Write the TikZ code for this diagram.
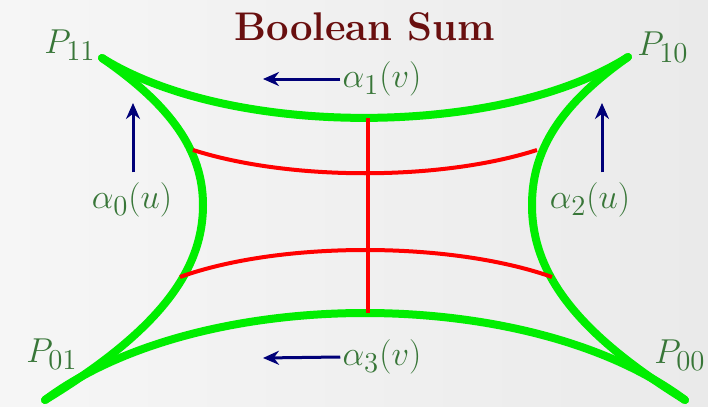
\documentclass[tikz,border=0pt]{standalone}
\usepackage{amsmath}
\usepackage{fontspec}
\usepackage{tikz}
\usetikzlibrary{arrows.meta, positioning, calc}
\definecolor{lgreen}{RGB}{0,238,0}
\definecolor{dgreen}{RGB}{56,118,56}
\definecolor{navy}{RGB}{0,0,120}
\definecolor{maroon}{RGB}{105,15,15}
\definecolor{bgl}{RGB}{246,246,246}
\definecolor{bgr}{RGB}{234,234,234}

\begin{document}
\begin{tikzpicture}[x=0.5pt, y=-0.5pt,
    edge/.style={lgreen, line width=4pt, line cap=round},
    iso/.style={red, line width=2pt},
    dir/.style={navy, line width=1.5pt, -{Stealth[length=8pt, width=7pt]}},
    lab/.style={dgreen, inner sep=1pt, font=\fontsize{19}{22}\selectfont}]
    \shade[left color=bgl, right color=bgr] (0,0) rectangle (708,407);

    \node[maroon, font=\fontsize{20}{24}\selectfont\bfseries] (title) at (365,27) {Boolean Sum};

    \coordinate (P11) at (102,58);
    \coordinate (P10) at (628,57);
    \coordinate (P01) at (45,400);
    \coordinate (P00) at (685,400);

    \node[lab] (p11) at (70,45) {$P_{11}$};
    \node[lab] (p10) at (663,47) {$P_{10}$};
    \node[lab] (p01) at (52,354) {$P_{01}$};
    \node[lab] (p00) at (680,355) {$P_{00}$};

    % boundary curves
    \draw[edge] (P11) .. controls (170,105) and (203,150) .. (203,205)
        .. controls (203,270) and (160,330) .. (P01);
    \draw[edge] (P10) .. controls (560,105) and (532,150) .. (532,205)
        .. controls (532,270) and (572,330) .. (P00);
    \draw[edge] (P11) .. controls (230,138) and (500,138) .. (P10);
    \draw[edge] (P01) .. controls (200,284) and (530,284) .. (P00);

    % interior isolines
    \draw[iso] (193,150) .. controls (290,181) and (440,181) .. (537,150);
    \draw[iso] (180,277) .. controls (280,241) and (450,241) .. (552,277);
    \draw[iso] (368,118) -- (368,313);

    % parameter directions
    \node[lab] (a1) at (382,79) {$\alpha_1(v)$};
    \node[lab] (a3) at (382,357) {$\alpha_3(v)$};
    \node[lab] (a0) at (132,200) {$\alpha_0(u)$};
    \node[lab] (a2) at (590,200) {$\alpha_2(u)$};
    \coordinate (a1tip) at (263,79);
    \coordinate (a3tip) at (263,358);
    \coordinate (a0tip) at (133,103);
    \coordinate (a2tip) at (602,103);
    \draw[dir] (a1.west) -- (a1tip);
    \draw[dir] (a3.west) -- (a3tip);
    \draw[dir, shorten <=4pt] (a0.north -| a0tip) -- (a0tip);
    \draw[dir, shorten <=4pt] (a2.north -| a2tip) -- (a2tip);
\end{tikzpicture}
\end{document}
